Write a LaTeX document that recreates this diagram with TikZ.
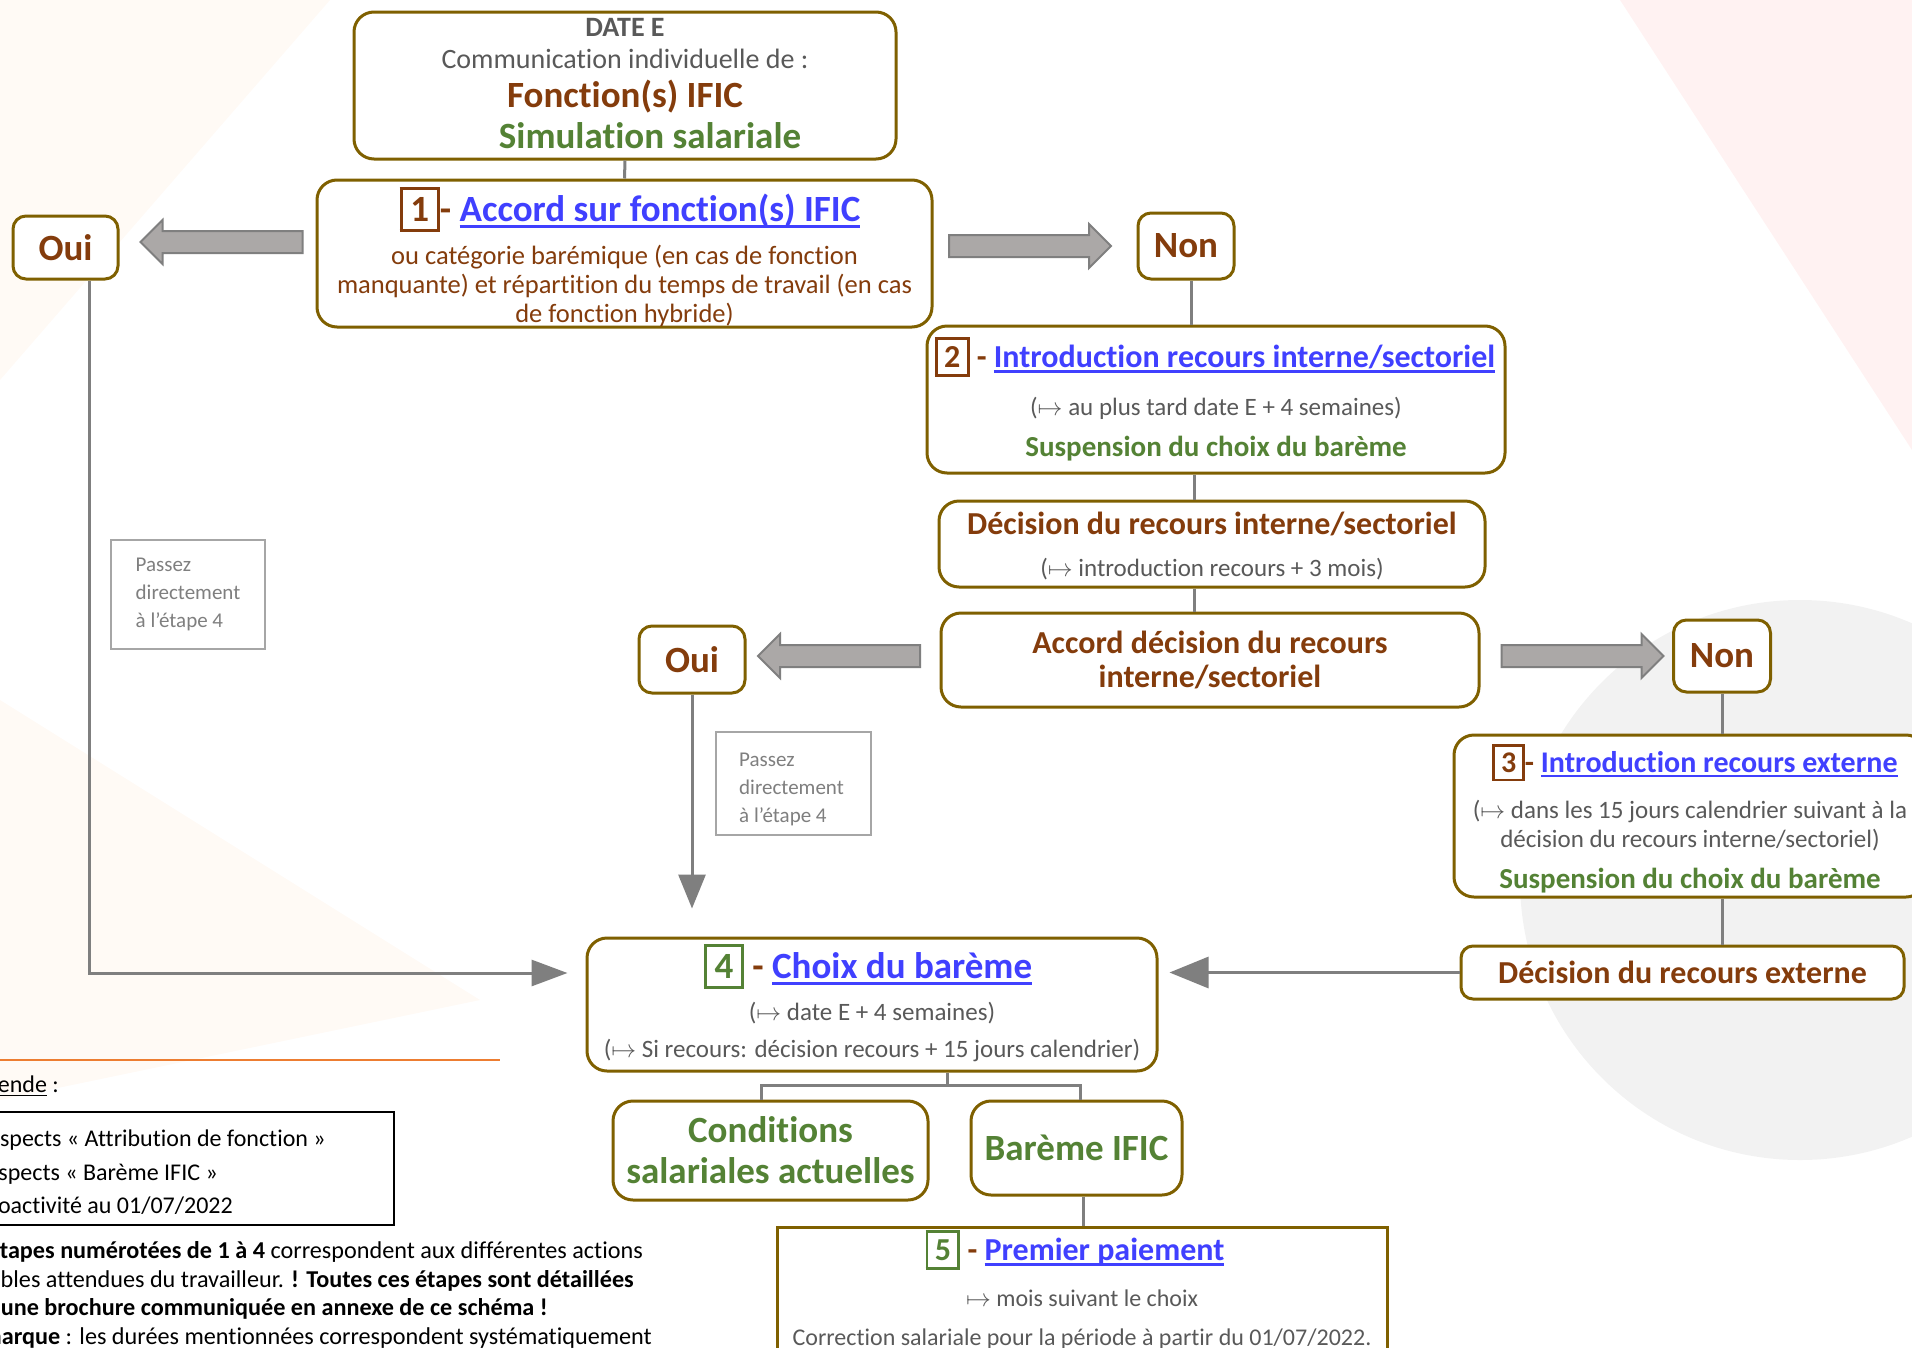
\documentclass[tikz,border=0pt]{standalone}
\usepackage{fontspec}
\setmainfont{Carlito}[Ligatures=NoCommon]
\usetikzlibrary{shapes.arrows,arrows.meta}

\definecolor{framec}{RGB}{127,96,0}
\definecolor{brownc}{RGB}{132,60,12}
\definecolor{greenc}{RGB}{84,130,53}
\definecolor{linkc}{RGB}{64,64,255}
\definecolor{greyc}{RGB}{89,89,89}
\definecolor{lightgreyc}{RGB}{127,127,127}
\definecolor{arrowc}{RGB}{171,168,167}
\definecolor{orangec}{RGB}{237,125,49}

\newcommand\fs[2]{\fontsize{#1}{#2}\selectfont}
\newsavebox\ulsave
\newcommand\ulbox[1]{\sbox\ulsave{#1}\rlap{\rule[-0.17em]{\wd\ulsave}{0.075em}}\usebox\ulsave}
\newcommand\linktxt[1]{\textcolor{linkc}{\ulbox{#1}}}
\newcommand\stepno[2]{{\setlength\fboxrule{0.09em}\setlength\fboxsep{0.2em}\fcolorbox{#1}{white}{\textcolor{#1}{#2}}}}

\tikzset{
  stepbox/.style={draw=framec, line width=3pt, rounded corners=20pt, fill=white, inner sep=0pt},
  choicebox/.style={stepbox, rounded corners=13pt, font=\bfseries\fs{37}{40}, text=brownc},
  txt/.style={inner sep=0pt, anchor=mid},
  hint/.style={draw=black!35, line width=1.5pt, fill=white, inner sep=0pt, font=\fs{21}{28}, text=lightgreyc, align=left},
  bigarrow/.style={single arrow, draw=lightgreyc, line width=2pt, fill=arrowc, inner xsep=0pt, inner ysep=10pt,
    minimum height=162pt, single arrow head extend=11pt},
  link/.style={draw=lightgreyc, line width=3pt},
  flow/.style={link, -{Triangle[length=36pt,width=26pt]}},
}

\begin{document}
\begin{tikzpicture}[x=1pt,y=-1pt]
\useasboundingbox (0,0) rectangle (1912,1347);
% faint background
\fill[white] (0,0) rectangle (1912,1347);
\fill[orange, opacity=0.04] (0,0) -- (330,0) -- (0,380) -- cycle;
\fill[red, opacity=0.05] (1620,0) -- (1912,0) -- (1912,450) -- cycle;
\fill[black, opacity=0.05] (1800,880) circle (280);
\fill[orange, opacity=0.04] (0,700) -- (480,1000) -- (0,1100) -- cycle;

% date E
\node[stepbox, minimum width=542, minimum height=147] (date) at (625,85.5) {};
\node[txt, font=\bfseries\fs{28}{30}, text=greyc] (date-a) at (625,34) {DATE E};
\node[txt, font=\fs{28}{30}, text=greyc] (date-b) at (625,66) {Communication individuelle de :};
\node[txt, font=\bfseries\fs{37}{40}, text=brownc] (date-c) at (625,105) {Fonction(s) IFIC};
\node[txt, font=\bfseries\fs{37}{40}, text=greenc] (date-d) at (650,146) {Simulation salariale};

% etape 1
\node[stepbox, minimum width=615, minimum height=147] (acc) at (624.5,253.5) {};
\node[txt, font=\bfseries\fs{37}{40}, text=brownc] (acc-t) at (630,219) {\stepno{brownc}{1}- \linktxt{Accord sur fonction(s) IFIC}};
\node[inner sep=0pt, font=\fs{26.5}{29}, text=brownc, align=center] (acc-b) at (624.5,286)
  {ou catégorie barémique (en cas de fonction\\manquante) et répartition du temps de travail (en cas\\de fonction hybride)};

\node[choicebox, minimum width=105, minimum height=63] (oui1) at (65.5,247.5) {Oui};
\node[choicebox, minimum width=96, minimum height=66] (non1) at (1186,246) {Non};
\node[bigarrow, shape border rotate=180] (oui1-arrow) at (227,242) {};
\node[bigarrow] (non1-arrow) at (1024.5,246) {};

% etape 2
\node[stepbox, minimum width=578, minimum height=147] (intro) at (1216,399.5) {};
\node[txt, font=\bfseries\fs{32}{35}, text=brownc] (intro-t) at (1215,365) {\stepno{brownc}{2} - \linktxt{Introduction recours interne/sectoriel}};
\node[txt, font=\fs{25}{28}, text=greyc] (intro-d) at (1216,413) {($\mapsto$ au plus tard date E + 4 semaines)};
\node[txt, font=\bfseries\fs{29}{32}, text=greenc] (intro-s) at (1216,454) {Suspension du choix du barème};

\node[stepbox, minimum width=546, minimum height=86] (decint) at (1212,544) {};
\node[txt, font=\bfseries\fs{32}{35}, text=brownc] (decint-t) at (1212,532) {Décision du recours interne/sectoriel};
\node[txt, font=\fs{25}{28}, text=greyc] (decint-d) at (1212,574) {($\mapsto$ introduction recours + 3 mois)};

\node[stepbox, minimum width=538, minimum height=94, font=\bfseries\fs{32}{34}, text=brownc, align=center] (accdec) at (1210,660)
  {Accord décision du recours\\interne/sectoriel};

\node[choicebox, minimum width=106, minimum height=67] (oui2) at (692,659.5) {Oui};
\node[choicebox, minimum width=97, minimum height=72] (non2) at (1722,656) {Non};
\node[bigarrow, shape border rotate=180] (oui2-arrow) at (844.5,656) {};
\node[bigarrow] (non2-arrow) at (1577,656) {};

% etape 3
\node[stepbox, minimum width=472, minimum height=162] (extin) at (1690,816) {};
\node[txt, font=\bfseries\fs{30}{33}, text=brownc] (extin-t) at (1695,770) {\stepno{brownc}{3}- \linktxt{Introduction recours externe}};
\node[inner sep=0pt, font=\fs{25}{29}, text=greyc, align=center] (extin-d) at (1690,826)
  {($\mapsto$ dans les 15 jours calendrier suivant à la\\décision du recours interne/sectoriel)};
\node[txt, font=\bfseries\fs{29}{32}, text=greenc] (extin-s) at (1690,886) {Suspension du choix du barème};

\node[stepbox, rounded corners=12pt, minimum width=443, minimum height=53, font=\bfseries\fs{32}{35}, text=brownc] (decext) at (1682.5,972.5)
  {Décision du recours externe};

% etape 4
\node[stepbox, minimum width=570, minimum height=133] (bareme) at (872,1004.5) {};
\node[txt, font=\bfseries\fs{37}{40}, text=brownc] (bareme-t) at (868,976) {\stepno{greenc}{4} - \linktxt{Choix du barème}};
\node[txt, font=\fs{25}{28}, text=greyc] (bareme-a) at (872,1018) {($\mapsto$ date E + 4 semaines)};
\node[txt, font=\fs{25}{28}, text=greyc] (bareme-b) at (872,1055) {($\mapsto$ Si recours: décision recours + 15 jours calendrier)};

\node[stepbox, minimum width=315, minimum height=99, font=\bfseries\fs{37}{41}, text=greenc, align=center] (actuel) at (770.5,1150.5)
  {Conditions\\salariales actuelles};
\node[stepbox, minimum width=211, minimum height=94, font=\bfseries\fs{37}{40}, text=greenc] (ific) at (1076.5,1148) {Barème IFIC};

% etape 5
\node[stepbox, rounded corners=0pt, minimum width=610, minimum height=160] (paie) at (1082,1307) {};
\node[txt, font=\bfseries\fs{32}{35}, text=brownc] (paie-t) at (1075,1258) {\stepno{greenc}{5} - \linktxt{Premier paiement}};
\node[txt, font=\fs{24}{26}, text=greyc] (paie-a) at (1082,1304) {$\mapsto$ mois suivant le choix};
\node[txt, font=\fs{24}{26}, text=greyc] (paie-b) at (1082,1343) {Correction salariale pour la période à partir du 01/07/2022.};

\node[hint, minimum width=154, minimum height=109] (skip1) at (188,594.5) {Passez\\directement\\à l’étape 4};
\node[hint, minimum width=155, minimum height=103] (skip2) at (793.5,783.5) {};
\node[inner sep=0pt, font=\fs{21}{28}, text=lightgreyc, align=left, anchor=west] (skip2-t) at (739,789)
  {Passez\\directement\\à l’étape 4};

% liens
\coordinate (spine) at (1194,0);
\coordinate (fork) at (947,1085);
\draw[link] (date.south) -- (acc.north);
\draw[link] ([xshift=5pt]non1.south) -- ([xshift=5pt]non1.south |- intro.north);
\draw[link] (intro.south -| spine) -- (decint.north -| spine);
\draw[link] (decint.south -| spine) -- (accdec.north -| spine);
\draw[link] (non2.south) -- (non2.south |- extin.north);
\draw[link] (extin.south -| non2) -- (decext.north -| non2);
\draw[link] (bareme.south -| fork) -- (fork);
\draw[link] ([xshift=-9pt]actuel.north) |- (fork) -| ([xshift=4pt]ific.north);
\draw[link] ([xshift=7pt]ific.south) -- ([xshift=7pt]ific.south |- paie.north);
\draw[flow] ([xshift=23.5pt]oui1.south) |- ([xshift=-18pt,yshift=31.5pt]bareme.west);
\draw[flow, -{Triangle[length=34pt,width=27pt]}] (oui2.south) -- ([yshift=28pt]oui2.south |- bareme.north);
\draw[flow, -{Triangle[length=39pt,width=31pt]}] (decext.west) -- ([xshift=11pt]decext.west -| bareme.east);

% legende
\draw[orangec, line width=2.5pt] (0,1060) -- (500,1060);
\node[txt, anchor=mid east, font=\fs{24}{26}] (leg) at (59,1090) {\ulbox{Légende} :};
\node[draw, line width=1.5pt, inner sep=0pt, minimum width=414, minimum height=113] (legbox) at (187,1168.5) {};
\node[txt, anchor=mid east, font=\fs{24}{26}] (leg-a) at (326,1144) {Aspects « Attribution de fonction »};
\node[txt, anchor=mid east, font=\fs{24}{26}] (leg-b) at (218,1178) {Aspects « Barème IFIC »};
\node[txt, anchor=mid east, font=\fs{24}{26}] (leg-c) at (233,1211) {Rétroactivité au 01/07/2022};
\node[txt, anchor=mid east, font=\fs{24.2}{26}] (note-a) at (643,1256) {\textbf{Les étapes numérotées de 1 à 4} correspondent aux différentes actions};
\node[txt, anchor=mid east, font=\fs{24.2}{26}] (note-b) at (634,1285) {possibles attendues du travailleur. \textbf{! Toutes ces étapes sont détaillées}};
\node[txt, anchor=mid east, font=\fs{24.2}{26}] (note-c) at (548,1313) {\textbf{dans une brochure communiquée en annexe de ce schéma !}};
\node[txt, anchor=mid east, font=\fs{24.2}{26}] (note-d) at (652,1342) {\textbf{Remarque} : les durées mentionnées correspondent systématiquement};
\end{tikzpicture}
\end{document}
